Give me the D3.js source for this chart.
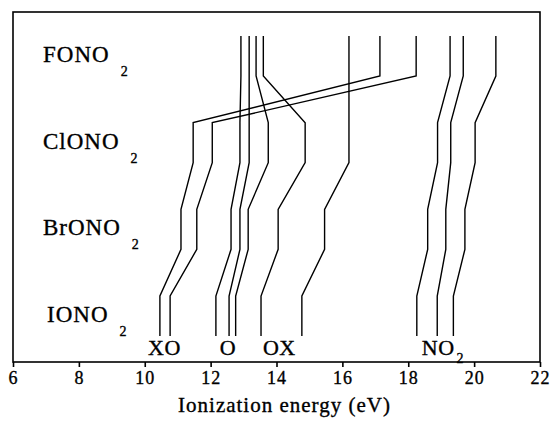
<!DOCTYPE html>
<html>
<head>
<meta charset="utf-8">
<script src="https://cdn.jsdelivr.net/npm/d3@7"></script>
<style>
  body { margin: 0; background: #fff; }
  text { font-family: "Liberation Serif", "Times New Roman", serif; fill: #000; stroke: #000; stroke-width: 0.35px; }
</style>
</head>
<body>
<div id="chart"></div>
<script>
// molecules, top row to bottom row
var molecules = ["FONO2", "ClONO2", "BrONO2", "IONO2"];
var moleculeText = ["FONO", "ClONO", "BrONO", "IONO"];

// ionization energies (eV) of each band, one value per molecule (F, Cl, Br, I)
var bandXO1 = [17.14, 11.47, 11.10, 10.46];
var bandXO2 = [18.24, 12.05, 11.58, 10.77];
var bandO1  = [12.92, 12.89, 12.62, 12.16];
var bandO2  = [13.17, 13.17, 12.89, 12.56];
var bandO3  = [13.38, 13.75, 13.14, 12.76];
var bandO4  = [13.60, 14.87, 14.05, 13.53];
var bandX   = [16.20, 16.20, 15.46, 14.77];
var bandNa  = [19.27, 18.89, 18.59, 18.26];
var bandNb  = [19.67, 19.29, 19.14, 18.88];
var bandNc  = [20.66, 20.03, 19.72, 19.37];
var bands = [bandXO1, bandXO2, bandO1, bandO2, bandO3, bandO4, bandX, bandNa, bandNb, bandNc];

// labels under the bottom row (left edge in eV)
var bandLabels = ["XO", "O", "OX", "NO"];
var bandLabelX = [10.1, 12.28, 13.59, 18.41];

var xTicks = [6, 8, 10, 12, 14, 16, 18, 20, 22];

var width = 555, height = 426,
    margin = {top: 12, right: 15, bottom: 64, left: 13};

var svg = d3.select("#chart").append("svg")
    .attr("width", width)
    .attr("height", height);

var x = d3.scaleLinear().domain([6, 22]).range([margin.left, width - margin.right]);
var row = d3.scalePoint().domain(molecules).range([36, 296]);
var segLen = 40;

// frame
svg.append("rect")
    .attr("x", x(6)).attr("y", margin.top)
    .attr("width", x(22) - x(6))
    .attr("height", height - margin.bottom - margin.top)
    .attr("fill", "none").attr("stroke", "#000").attr("stroke-width", 1.6);

// axis
var axis = svg.append("g")
    .attr("transform", "translate(0," + (height - margin.bottom) + ")")
    .call(d3.axisBottom(x).tickValues(xTicks).tickSize(5).tickPadding(4));
axis.select(".domain").remove();
axis.selectAll("line").attr("stroke-width", 1.6);
axis.selectAll("text")
    .style("font-family", "'Liberation Serif', serif")
    .style("font-size", "18px")
    .style("letter-spacing", "1px");

svg.append("text")
    .attr("x", (x(6) + x(22)) / 2 + 8)
    .attr("y", 412)
    .attr("text-anchor", "middle")
    .style("font-size", "21px")
    .style("letter-spacing", "1px")
    .text("Ionization energy (eV)");

// band lines
var line = d3.line();
bands.forEach(function(b) {
  var pts = [];
  molecules.forEach(function(m, i) {
    pts.push([x(b[i]), row(m)]);
    pts.push([x(b[i]), row(m) + segLen]);
  });
  svg.append("path")
      .attr("d", line(pts))
      .attr("fill", "none")
      .attr("stroke", "#000")
      .attr("stroke-width", 1.4)
      .attr("stroke-linejoin", "miter");
});

// molecule labels
molecules.forEach(function(m, i) {
  var t = svg.append("text")
      .attr("x", i == 3 ? 47 : 43)
      .attr("y", row(m) + 26)
      .style("font-size", "23px")
      .style("letter-spacing", "1px");
  t.append("tspan").text(moleculeText[i]);
  t.append("tspan").attr("dx", 11).attr("dy", 14).style("font-size", "14px").text("2");
});

// band labels at the bottom
bandLabels.forEach(function(l, i) {
  var t = svg.append("text")
      .attr("x", x(bandLabelX[i]))
      .attr("y", 355)
      .style("font-size", "22px")
      .style("letter-spacing", "0.5px");
  t.append("tspan").text(l);
  if (l == "NO") t.append("tspan").attr("dx", 2).attr("dy", 8).style("font-size", "14px").text("2");
});
</script>
</body>
</html>
